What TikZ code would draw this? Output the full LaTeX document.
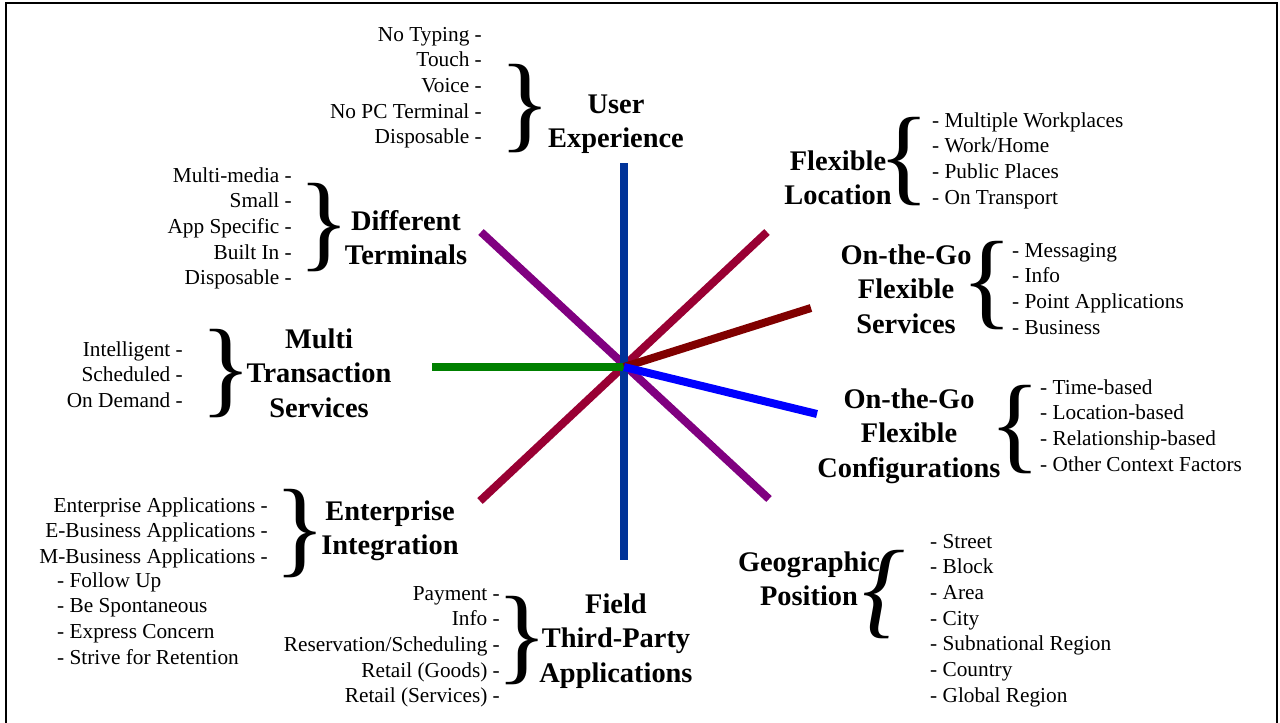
\documentclass[tikz,border=0pt]{standalone}
\usepackage{fontspec}
\setmainfont{Liberation Serif}
\usepackage{tikz}

\definecolor{axisblue}{HTML}{003399}
\definecolor{spokepurple}{HTML}{800080}
\definecolor{spokecrimson}{HTML}{990033}
\definecolor{spokemaroon}{HTML}{800000}
\definecolor{spokeblue}{HTML}{0000FF}
\definecolor{spokegreen}{HTML}{008000}

\tikzset{
  item/.style={font=\fontsize{21.3}{25.7}\selectfont, inner sep=0pt},
  head/.style={font=\fontsize{28.4}{34}\selectfont\bfseries, inner sep=0pt, anchor=base},
  curly/.style={font=\fontsize{107}{107}\selectfont, inner sep=0pt},
  spoke/.style={line width=8pt}
}

\begin{document}
\begin{tikzpicture}[x=1pt,y=-1pt]
    \useasboundingbox (0,0) rectangle (1280,723);

    % draw frame
    \draw[line width=2pt] (6,724) -- (6,3) -- (1277,3) -- (1277,724);

    % draw spokes
    \coordinate (hub) at (624,367);
    \coordinate (ue-end) at (624,163);
    \coordinate (ft-end) at (624,560);
    \coordinate (dt-end) at (481,232);
    \coordinate (gp-end) at (769,499);
    \coordinate (fl-end) at (767,232);
    \coordinate (ei-end) at (480,501);
    \coordinate (os-end) at (811,308);
    \coordinate (oc-end) at (817,414);
    \coordinate (mt-end) at (432,367);

    \draw[spoke, spokepurple] (dt-end) -- (gp-end);
    \draw[spoke, spokecrimson] (fl-end) -- (ei-end);
    \draw[spoke, axisblue] (ue-end) -- (ft-end);
    \draw[spoke, spokegreen] (mt-end) -- (hub);
    \draw[spoke, spokemaroon] (hub) -- (os-end);
    \draw[spoke, spokeblue] (hub) -- (oc-end);

    % User Experience
    \foreach \t [count=\i from 0] in {User, Experience}
      \node[head] (ue-h\i) at (616,{113.5+34.3*\i}) {\t};
    \node[curly] (ue-br) at (525,108.5) {\}};
    \foreach \t [count=\i from 0] in {No Typing, Touch, Voice, No PC Terminal, Disposable}
      \node[item, anchor=base east] (ue-\i) at (482,{41+25.7*\i}) {\t{} -};

    % Different Terminals
    \foreach \t [count=\i from 0] in {Different, Terminals}
      \node[head] (dt-h\i) at (406,{230.5+34.3*\i}) {\t};
    \node[curly] (dt-br) at (324,228) {\}};
    \foreach \t [count=\i from 0] in {Multi-media, Small, App Specific, Built In, Disposable}
      \node[item, anchor=base east] (dt-\i) at (292,{182+25.7*\i}) {\t{} -};

    % Multi Transaction Services
    \foreach \t [count=\i from 0] in {Multi, Transaction, Services}
      \node[head] (mt-h\i) at (319,{348.5+34.3*\i}) {\t};
    \node[curly] (mt-br) at (226,374) {\}};
    \foreach \t [count=\i from 0] in {Intelligent, Scheduled, On Demand}
      \node[item, anchor=base east] (mt-\i) at (183,{356+25.7*\i}) {\t{} -};

    % Enterprise Integration
    \foreach \t [count=\i from 0] in {Enterprise, Integration}
      \node[head] (ei-h\i) at (390,{520.5+34.3*\i}) {\t};
    \node[curly] (ei-br) at (300,534) {\}};
    \foreach \t [count=\i from 0] in {Enterprise Applications, E-Business Applications, M-Business Applications}
      \node[item, anchor=base east] (ei-\i) at (268,{512+25.7*\i}) {\t{} -};
    \foreach \t [count=\i from 0] in {Follow Up, Be Spontaneous, Express Concern, Strive for Retention}
      \node[item, anchor=base west] (ei-sub\i) at (57,{587+25.7*\i}) {- \t};

    % Field Third-Party Applications
    \foreach \t [count=\i from 0] in {Field, Third-Party, Applications}
      \node[head] (ft-h\i) at (616,{613.5+34.3*\i}) {\t};
    \node[curly] (ft-br) at (522,641) {\}};
    \foreach \t [count=\i from 0] in {Payment, Info, {Reservation/Scheduling}, Retail (Goods), Retail (Services)}
      \node[item, anchor=base east] (ft-\i) at (500,{600+25.7*\i}) {\t{} -};

    % Flexible Location
    \foreach \t [count=\i from 0] in {Flexible, Location}
      \node[head] (fl-h\i) at (838,{170.5+34.3*\i}) {\t};
    \node[curly] (fl-br) at (904,161.5) {\{};
    \foreach \t [count=\i from 0] in {Multiple Workplaces, {Work/Home}, Public Places, On Transport}
      \node[item, anchor=base west] (fl-\i) at (932,{127+25.7*\i}) {- \t};

    % On-the-Go Flexible Services
    \foreach \t [count=\i from 0] in {On-the-Go, Flexible, Services}
      \node[head] (os-h\i) at (906,{264.5+34.3*\i}) {\t};
    \node[curly] (os-br) at (987,286) {\{};
    \foreach \t [count=\i from 0] in {Messaging, Info, Point Applications, Business}
      \node[item, anchor=base west] (os-\i) at (1012,{257+25.7*\i}) {- \t};

    % On-the-Go Flexible Configurations
    \foreach \t [count=\i from 0] in {On-the-Go, Flexible, Configurations}
      \node[head] (oc-h\i) at (909,{408.5+34.3*\i}) {\t};
    \node[curly] (oc-br) at (1015,430) {\{};
    \foreach \t [count=\i from 0] in {Time-based, Location-based, Relationship-based, Other Context Factors}
      \node[item, anchor=base west] (oc-\i) at (1040,{394+25.7*\i}) {- \t};

    % Geographic Position
    \foreach \t [count=\i from 0] in {Geographic, Position}
      \node[head] (gp-h\i) at (809,{571+34.3*\i}) {\t};
    \node[curly, font=\fontsize{107}{107}\selectfont\itshape] (gp-br) at (884,595) {\{};
    \foreach \t [count=\i from 0] in {Street, Block, Area, City, Subnational Region, Country, Global Region}
      \node[item, anchor=base west] (gp-\i) at (930,{548+25.7*\i}) {- \t};

  \end{tikzpicture}
\end{document}
